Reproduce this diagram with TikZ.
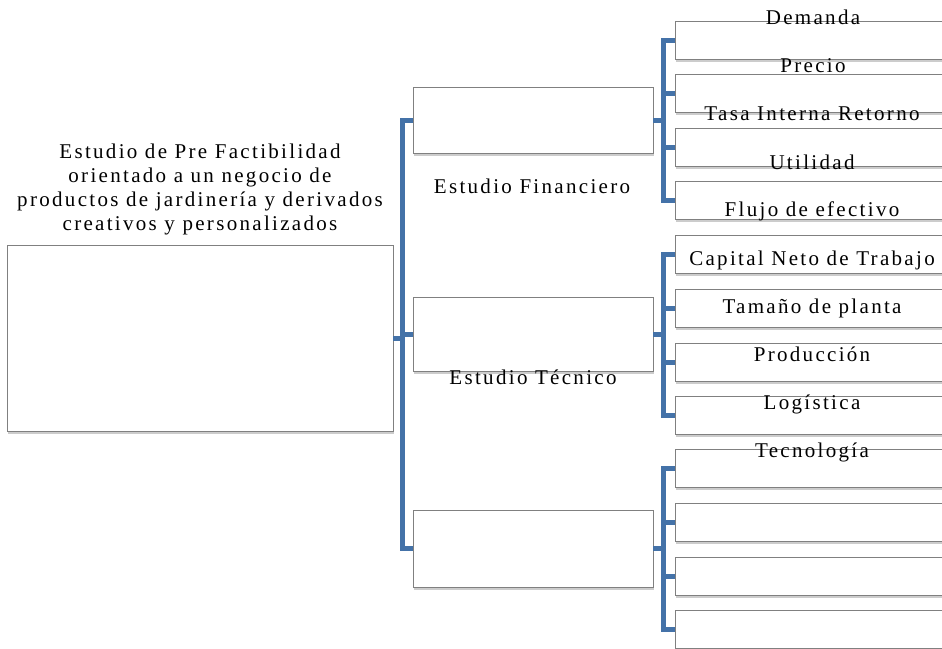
\documentclass[tikz,border=0pt]{standalone}
\usepackage{fontspec}
\setmainfont{Liberation Serif}[LetterSpace=11]
\usetikzlibrary{shadows}
\definecolor{barblue}{RGB}{68,114,168}
\definecolor{boxline}{RGB}{128,128,128}

\begin{document}
\begin{tikzpicture}[x=1pt,y=-1pt,
  box/.style={draw=boxline, line width=0.9pt, fill=white, anchor=north west,
    inner sep=0pt, outer sep=0pt,
    drop shadow={shadow xshift=1pt, shadow yshift=-2.5pt, opacity=0.4, fill=gray}},
  leaf/.style={box, minimum width=290pt, minimum height=38pt},
  midbox/.style={box, minimum width=240pt},
  conn/.style={draw=barblue, line width=5pt, line cap=butt, line join=miter},
  lbl/.style={font=\fontsize{21}{24}\selectfont, inner sep=0pt, text=black, align=center, anchor=base}]

\useasboundingbox (0,0) rectangle (942,648);
\clip (0,0) rectangle (942,648);

% main boxes
\node[box, minimum width=386pt, minimum height=186pt] (root) at (7,245) {};
\node[midbox, minimum height=66pt] (fin) at (413,87) {};
\node[midbox, minimum height=74pt] (tec) at (413,297) {};
\node[midbox, minimum height=77pt] (ter) at (413,510) {};

% leaf boxes, financial group
\node[leaf] (f1) at (675,21) {};
\node[leaf] (f2) at (675,74.5) {};
\node[leaf] (f3) at (675,128) {};
\node[leaf] (f4) at (675,181) {};
% leaf boxes, technical group
\node[leaf] (t1) at (675,235) {};
\node[leaf] (t2) at (675,289) {};
\node[leaf] (t3) at (675,343) {};
\node[leaf] (t4) at (675,396) {};
% leaf boxes, third group
\node[leaf] (e1) at (675,449) {};
\node[leaf] (e2) at (675,503) {};
\node[leaf] (e3) at (675,557) {};
\node[leaf] (e4) at (675,610) {};

% bar positions
\coordinate (mainbar) at (402,0);
\coordinate (rbar) at (663,0);

% root to the three studies
\draw[conn] (fin.west) -| (mainbar |- fin.west) |- (ter.west);
\draw[conn] (root.east) -- (mainbar |- root.east);
\draw[conn] (tec.west) -- (mainbar |- tec.west);

% financial group
\draw[conn] (f1.west) -| (rbar |- f1.west) |- (f4.west);
\draw[conn] (fin.east) -- (rbar |- fin.east);
\draw[conn] (f2.west) -- (rbar |- f2.west);
\draw[conn] (f3.west) -- (rbar |- f3.west);

% technical group
\draw[conn] (t1.west) -| (rbar |- t1.west) |- (t4.west);
\draw[conn] (tec.east) -- (rbar |- tec.east);
\draw[conn] (t2.west) -- (rbar |- t2.west);
\draw[conn] (t3.west) -- (rbar |- t3.west);

% third group
\draw[conn] (e1.west) -| (rbar |- e1.west) |- (e4.west);
\draw[conn] (ter.east) -- (rbar |- ter.east);
\draw[conn] (e2.west) -- (rbar |- e2.west);
\draw[conn] (e3.west) -- (rbar |- e3.west);

% texts
\node[lbl, anchor=center] (title) at (200,189.5)
  {Estudio de Pre Factibilidad\\orientado a un negocio de\\productos de jardinería y derivados\\creativos y personalizados};
\node[lbl] (lfin) at (532,193) {Estudio Financiero};
\node[lbl] (ltec) at (533,384) {Estudio Técnico};

\node[lbl] (l1) at (813,24) {Demanda};
\node[lbl] (l2) at (813,72) {Precio};
\node[lbl] (l3) at (812,120) {Tasa Interna Retorno};
\node[lbl] (l4) at (812,169) {Utilidad};
\node[lbl] (l5) at (812,216) {Flujo de efectivo};

\node[lbl] (l6) at (812,265) {Capital Neto de Trabajo};
\node[lbl] (l7) at (812,313) {Tamaño de planta};
\node[lbl] (l8) at (812,361) {Producción};
\node[lbl] (l9) at (812,409) {Logística};
\node[lbl] (l10) at (812,457) {Tecnología};
\end{tikzpicture}
\end{document}
